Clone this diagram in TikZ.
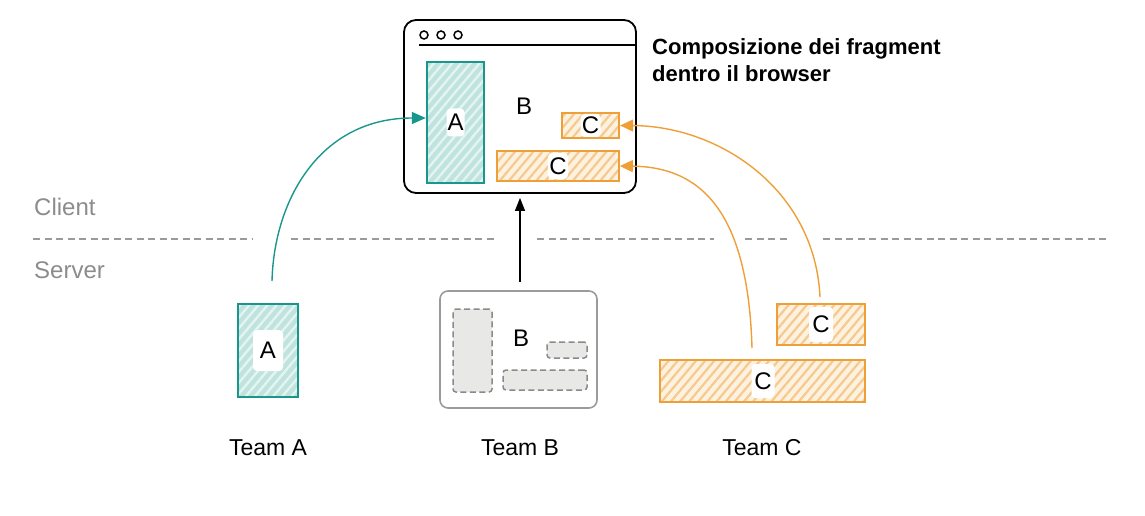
\documentclass[tikz,border=0pt]{standalone}
\usepackage{fontspec}
\setmainfont{Liberation Sans}
\usetikzlibrary{patterns.meta,arrows.meta}
\definecolor{teal1}{HTML}{1A978C}
\definecolor{tealfill}{HTML}{BFE4DE}
\definecolor{orange1}{HTML}{EE9F38}
\definecolor{orangefill}{HTML}{FDF1E0}
\definecolor{orangeline}{HTML}{F6CA8E}
\definecolor{graytxt}{HTML}{8C8C8C}
\definecolor{dashgray}{HTML}{9A9A9A}
\definecolor{boxgray}{HTML}{9B9B9B}
\definecolor{innerfill}{HTML}{E8E8E6}
\definecolor{innerdash}{HTML}{8A8A8A}
\begin{document}
\begin{tikzpicture}[x=1pt,y=1pt,
  tealbox/.style={draw=teal1, line width=1.6pt, preaction={fill=tealfill},
    pattern={Lines[angle=50,distance=7pt,line width=2.4pt]}, pattern color=white!60!tealfill,
    inner sep=0pt, rectangle},
  orangebox/.style={draw=orange1, line width=1.6pt, preaction={fill=orangefill},
    pattern={Lines[angle=50,distance=7pt,line width=2.2pt]}, pattern color=orangeline,
    inner sep=0pt, rectangle},
  lbl/.style={fill=white, rounded corners=4pt, inner sep=0pt, text=black,
    font=\fontsize{24}{28}\selectfont},
  plain/.style={inner sep=0pt, font=\fontsize{24}{28}\selectfont},
  team/.style={inner sep=0pt, font=\fontsize{23}{28}\selectfont},
  side/.style={inner sep=0pt, anchor=west, text=graytxt, font=\fontsize{24}{28}\selectfont},
  dot/.style={circle, draw=black, line width=1.5pt, minimum size=8pt, inner sep=0pt},
  sep/.style={draw=dashgray, line width=1.8pt, dash pattern=on 7pt off 4.5pt},
  innerbox/.style={draw=innerdash, fill=innerfill, line width=1.5pt, dash pattern=on 6pt off 3.5pt,
    rounded corners=3pt, inner sep=0pt, rectangle},
  conn/.style={line width=1.4pt},
]
\useasboundingbox (0,0) rectangle (1145,515);

% browser window
\node[draw=black, line width=1.8pt, rounded corners=12pt, minimum width=232pt, minimum height=173pt, inner sep=0pt] (br) at (520,408.5) {};
\coordinate (barL) at (419,470);
\draw[line width=1.8pt] (barL) -- (barL -| br.east);
\node[dot] (d1) at (424,480) {};
\node[dot] (d2) at (441,480) {};
\node[dot] (d3) at (458,480) {};

\node[tealbox, minimum width=57pt, minimum height=121pt] (bA) at (455.5,392.5) {};
\node[lbl, minimum width=18pt, minimum height=28pt] (bAl) at (bA) {A};
\node[plain] (bB) at (524,409) {B};
\node[orangebox, minimum width=57pt, minimum height=25pt] (bC1) at (590.5,389.5) {};
\node[lbl, minimum width=20pt, minimum height=23pt] (bC1l) at (590.5,389.5) {C};
\node[orangebox, minimum width=122pt, minimum height=30pt] (bC2) at (558,349) {};
\node[lbl, minimum width=20pt, minimum height=26pt] (bC2l) at (558,349) {C};

% title
\node[anchor=west, align=left, inner sep=0pt, font=\fontsize{22}{27}\selectfont\bfseries] (title) at (652,454.5) {Composizione dei fragment\\dentro il browser};

% client / server
\node[side] (client) at (34,308) {Client};
\node[side] (server) at (34,245) {Server};
\coordinate (s1a) at (33,276);   \coordinate (s1b) at (253,276);
\coordinate (s2a) at (291,276);  \coordinate (s2b) at (497,276);
\coordinate (s3a) at (537,276);  \coordinate (s3b) at (714,276);
\coordinate (s4a) at (745,276);  \coordinate (s4b) at (790,276);
\coordinate (s5a) at (823,276);  \coordinate (s5b) at (1110,276);
\draw[sep] (s1a) -- (s1b);
\draw[sep] (s2a) -- (s2b);
\draw[sep] (s3a) -- (s3b);
\draw[sep] (s4a) -- (s4b);
\draw[sep] (s5a) -- (s5b);

% team A
\node[tealbox, minimum width=60pt, minimum height=93pt] (tA) at (268,164.5) {};
\node[lbl, minimum width=30pt, minimum height=41pt] (tAl) at (tA) {A};
\node[team] (tAt) at (268,67) {Team A};

% team B
\node[draw=boxgray, line width=1.6pt, rounded corners=8pt, minimum width=157pt, minimum height=117pt, inner sep=0pt] (tB) at (518.5,165.5) {};
\node[innerbox, minimum width=39pt, minimum height=83pt] (tB1) at (472.5,164.5) {};
\node[innerbox, minimum width=40pt, minimum height=16pt] (tB2) at (567,165) {};
\node[innerbox, minimum width=84pt, minimum height=20pt] (tB3) at (545,135) {};
\node[plain] (tBl) at (521,177) {B};
\node[team] (tBt) at (520,67) {Team B};

% team C
\node[orangebox, minimum width=88pt, minimum height=41pt] (tC1) at (821,190.5) {};
\node[lbl, minimum width=24pt, minimum height=35pt] (tC1l) at (821,190.5) {C};
\node[orangebox, minimum width=205pt, minimum height=42pt] (tC2) at (762.5,134) {};
\node[lbl, minimum width=23pt, minimum height=34pt] (tC2l) at (763,134) {C};
\node[team] (tCt) at (762,67) {Team C};

% connectors
\coordinate (aStart) at (272,234);
\draw[conn, color=teal1, -{Triangle[length=14pt,width=12pt]}]
  (aStart) .. controls (274,315) and (320,397) .. ([yshift=4.5pt]bA.west);
\coordinate (c1Start) at (820,218);
\draw[conn, color=orange1, -{Triangle[length=13pt,width=12pt]}]
  (c1Start) .. controls (815,325) and (720,389) .. (bC1.east);
\coordinate (c2Start) at (752,167);
\draw[conn, color=orange1, -{Triangle[length=13pt,width=12pt]}]
  (c2Start) .. controls (748,305) and (700,348) .. (bC2.east);
\coordinate (bStart) at (520,233);
\draw[conn, color=black, -{Triangle[length=13pt,width=10pt]}] (bStart) -- ([yshift=-4pt]br.south);
\end{tikzpicture}
\end{document}
